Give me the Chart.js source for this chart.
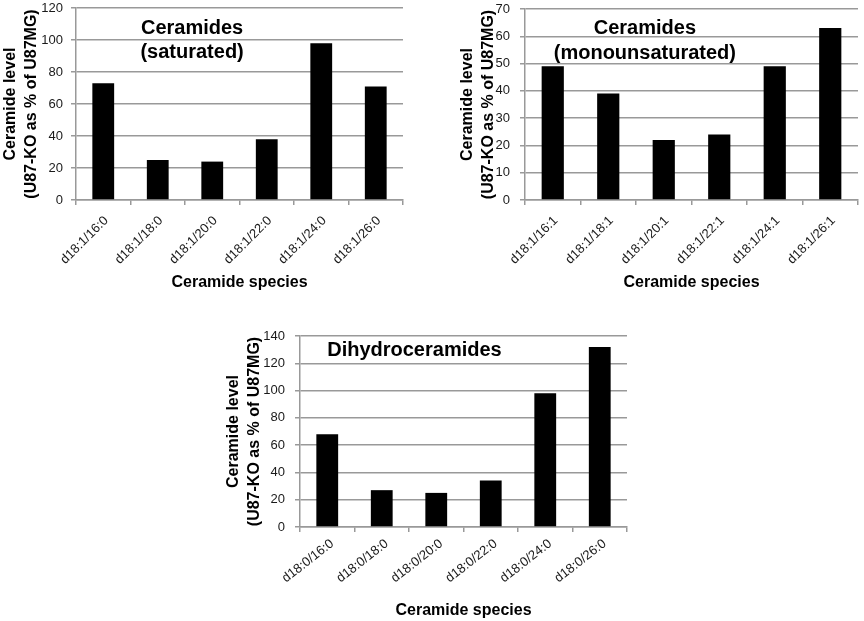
<!DOCTYPE html>
<html>
<head>
<meta charset="utf-8">
<script src="https://cdn.jsdelivr.net/npm/chart.js@4/dist/chart.umd.min.js"></script>
<style>
  html, body { margin: 0; padding: 0; background: #fff; }
  body { width: 864px; height: 621px; position: relative; overflow: hidden; }
  .box { position: absolute; }
</style>
</head>
<body>
<div class="box" id="b1" style="left:0px; top:0px; width:420px; height:300px;"><canvas id="c1"></canvas></div>
<div class="box" id="b2" style="left:457px; top:0px; width:407px; height:300px;"><canvas id="c2"></canvas></div>
<div class="box" id="b3" style="left:223px; top:320px; width:424px; height:301px;"><canvas id="c3"></canvas></div>
<script>
// ---- data ----
const satLabels = ['d18:1/16:0', 'd18:1/18:0', 'd18:1/20:0', 'd18:1/22:0', 'd18:1/24:0', 'd18:1/26:0'];
const satValues = [73, 25, 24, 38, 98, 71];
const monoLabels = ['d18:1/16:1', 'd18:1/18:1', 'd18:1/20:1', 'd18:1/22:1', 'd18:1/24:1', 'd18:1/26:1'];
const monoValues = [49, 39, 22, 24, 49, 63];
const dihydroLabels = ['d18:0/16:0', 'd18:0/18:0', 'd18:0/20:0', 'd18:0/22:0', 'd18:0/24:0', 'd18:0/26:0'];
const dihydroValues = [68, 27, 25, 34, 98, 132];
const satTitle = ['Ceramides', '(saturated)'];
const monoTitle = ['Ceramides', '(monounsaturated)'];
const dihydroTitle = ['Dihydroceramides'];
const yTitle = ['Ceramide level', '(U87-KO as % of U87MG)'];
const xTitle = 'Ceramide species';

const FONT = "'Liberation Sans', Arial, sans-serif";
const GRID = '#999999';

const innerTitle = {
  id: 'innerTitle',
  afterDatasetsDraw(chart, args, opts) {
    const ctx = chart.ctx, a = chart.chartArea;
    ctx.save();
    ctx.font = 'bold 20px ' + FONT;
    ctx.fillStyle = '#000';
    ctx.textAlign = 'center';
    ctx.textBaseline = 'middle';
    const x = a.left + (a.right - a.left) * opts.xFrac;
    opts.lines.forEach((t, i) => ctx.fillText(t, x, a.top + opts.y0 + i * opts.lh));
    ctx.restore();
  }
};

function makeChart(id, labels, values, yMax, step, cfg) {
  return new Chart(document.getElementById(id), {
    type: 'bar',
    data: {
      labels: labels,
      datasets: [{
        data: values,
        backgroundColor: '#000000',
        borderColor: '#000000',
        borderWidth: 0,
        barPercentage: 0.4,
        categoryPercentage: 1.0
      }]
    },
    options: {
      responsive: true,
      maintainAspectRatio: false,
      animation: false,
      layout: { padding: cfg.padding },
      plugins: {
        legend: { display: false },
        tooltip: { enabled: false },
        innerTitle: cfg.title
      },
      scales: {
        x: {
          offset: true,
          grid: { display: true, drawOnChartArea: false, drawTicks: true, tickLength: 5, color: GRID, lineWidth: 1.5, offset: true },
          border: { display: true, color: GRID, width: 1.5 },
          ticks: { minRotation: cfg.rot, maxRotation: cfg.rot, color: '#1a1a1a', font: { family: FONT, size: 13 }, padding: cfg.xPad, labelOffset: cfg.lOff },
          title: { display: true, text: xTitle, color: '#000', font: { family: FONT, size: 16, weight: 'bold', lineHeight: 1.2 }, padding: { top: 0, bottom: 0 } },
          afterFit(s) { s.height = cfg.xHeight; s.paddingLeft = 0; s.paddingRight = 0; }
        },
        y: {
          min: 0, max: yMax,
          grid: { color: GRID, lineWidth: 1.5, tickLength: 5, drawTicks: true },
          border: { display: true, color: GRID, width: 1.5 },
          ticks: { stepSize: step, color: '#1a1a1a', font: { family: FONT, size: 13 }, padding: cfg.tickPad },
          title: { display: true, text: yTitle, color: '#000', font: { family: FONT, size: 16, weight: 'bold', lineHeight: 1.3 }, padding: { top: 0, bottom: 0 } },
          afterFit(s) { s.width = cfg.yWidth; s.paddingTop = 0; s.paddingBottom = 0; }
        }
      }
    },
    plugins: [innerTitle]
  });
}

makeChart('c1', satLabels, satValues, 120, 20, {
  padding: { left: 0, top: 8, right: 17, bottom: 8 },
  xHeight: 92, yWidth: 76, tickPad: 8, rot: 45, xPad: 8, lOff: 3,
  title: { lines: satTitle, xFrac: 0.355, y0: 20, lh: 24 }
});
makeChart('c2', monoLabels, monoValues, 70, 10, {
  padding: { left: 0, top: 9, right: 6, bottom: 8 },
  xHeight: 92, yWidth: 68, tickPad: 10, rot: 45, xPad: 8, lOff: 3,
  title: { lines: monoTitle, xFrac: 0.36, y0: 19, lh: 25 }
});
makeChart('c3', dihydroLabels, dihydroValues, 140, 20, {
  padding: { left: 0, top: 16, right: 20, bottom: 1 },
  xHeight: 93, yWidth: 77, tickPad: 10, rot: 38, xPad: 4, lOff: 5,
  title: { lines: dihydroTitle, xFrac: 0.35, y0: 14, lh: 24 }
});
</script>
</body>
</html>
